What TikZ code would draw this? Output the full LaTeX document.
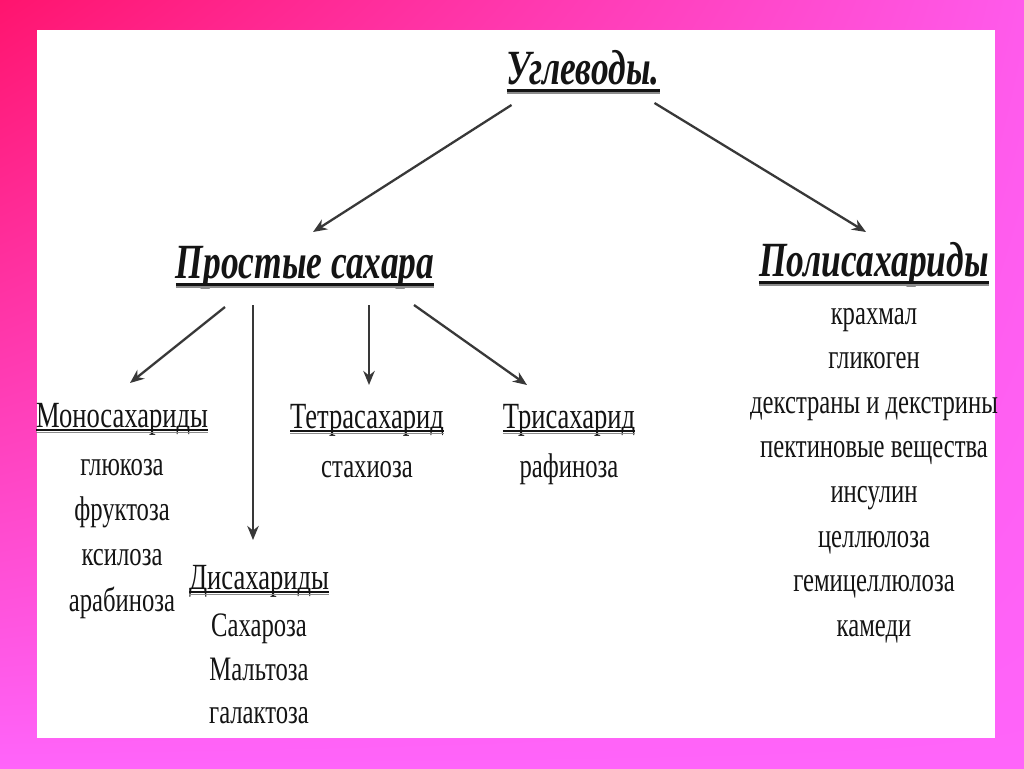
\documentclass[tikz,border=0pt]{standalone}
\usepackage{fontspec}
\setmainfont{Liberation Serif}[FakeStretch=0.72]
\usetikzlibrary{arrows.meta, positioning, calc, shadings}
\definecolor{bgred}{RGB}{255,20,110}
\definecolor{bgpink}{RGB}{255,90,235}
\definecolor{bgmag}{RGB}{255,100,250}
\definecolor{ink}{RGB}{20,20,20}
\tikzset{
  ulblack/.style={draw=ink, line width=1.1pt},
  ulgray/.style={draw=black!45, line width=0.8pt},
  title/.style={anchor=base, inner sep=0pt, outer sep=0pt, text=ink,
    font=\fontsize{28}{32}\selectfont\bfseries\itshape,
    append after command={
      ([yshift=-5pt]\tikzlastnode.base west) edge[ulgray, line width=1.1pt] ([yshift=-5pt]\tikzlastnode.base east)
      ([yshift=-3.6pt]\tikzlastnode.base west) edge[ulblack, line width=1.6pt] ([yshift=-3.6pt]\tikzlastnode.base east)}},
  head/.style={anchor=base, inner sep=0pt, outer sep=0pt, text=ink,
    font=\fontsize{21}{24}\selectfont,
    append after command={
      ([yshift=-3pt]\tikzlastnode.base west) edge[ulgray] ([yshift=-3pt]\tikzlastnode.base east)
      ([yshift=-1.8pt]\tikzlastnode.base west) edge[ulblack] ([yshift=-1.8pt]\tikzlastnode.base east)}},
  item/.style={anchor=base, inner sep=0pt, text=ink, font=\fontsize{19.5}{24}\selectfont},
  arrow/.style={-{Stealth[length=8pt, width=6.5pt]}, line width=1.3pt, draw=black!78}
}
\begin{document}
\begin{tikzpicture}[x=0.02cm, y=-0.02cm]
    \useasboundingbox (0,0) rectangle (1024,768);
    \shade[upper left=bgred, upper right=bgpink, lower left=bgmag, lower right=bgmag] (0,0) rectangle (1024,768);
    \fill[white] (37,30) rectangle (995,738);

    % top levels
    \node[title] (ugl) at (583,84) {Углеводы.};
    \node[title] (prost) at (305,278) {Простые сахара};
    \node[title] (poly) at (874,276) {Полисахариды};

    % simple sugars
    \node[head] (mono) at (122,427) {Моносахариды};
    \node[head] (di) at (259,589) {Дисахариды};
    \node[head] (tetra) at (367,428) {Тетрасахарид};
    \node[head] (tri) at (569,428) {Трисахарид};

    \foreach \t [count=\i] in {глюкоза, фруктоза, ксилоза, арабиноза}
      \node[item] (mono\i) at ($(mono.base)+(0,{3+45.3*\i})$) {\t};
    \foreach \t [count=\i] in {Сахароза, Мальтоза, галактоза}
      \node[item] (di\i) at ($(di.base)+(0,{4+43.5*\i})$) {\t};
    \node[item] (tetra1) at ($(tetra.base)+(0,49)$) {стахиоза};
    \node[item] (tri1) at ($(tri.base)+(0,49)$) {рафиноза};

    % polysaccharides
    \foreach \t [count=\i] in {крахмал, гликоген, декстраны и декстрины, пектиновые вещества, инсулин, целлюлоза, гемицеллюлоза, камеди}
      \node[item] (poly\i) at ($(poly.base)+(0,{3.4+44.6*\i})$) {\t};

    \draw[arrow] ($(ugl.base west)+(5,21)$) -- ($(prost.base)+(8,-46)$);
    \draw[arrow] ($(ugl.base east)+(-5,19)$) -- ($(poly.base)+(-8,-44)$);

    \draw[arrow] ($(prost.base)+(-80,29)$) -- ($(mono.base)+(8,-44)$);
    \draw[arrow] ($(prost.base)+(-52,27)$) -- ($(di.base)+(-6,-49)$);
    \draw[arrow] ($(prost.base)+(64,27)$) -- ($(tetra.base)+(2,-43)$);
    \draw[arrow] ($(prost.base)+(109,27)$) -- ($(tri.base)+(-42,-43)$);
\end{tikzpicture}
\end{document}
